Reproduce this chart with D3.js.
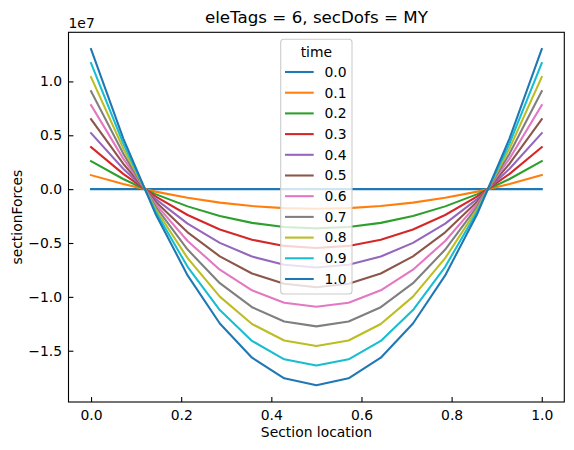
<!DOCTYPE html>
<html><head><meta charset="utf-8">
<script src="https://cdn.jsdelivr.net/npm/d3@7"></script>
<style>
body{margin:0;background:#fff;}
svg text{font-family:"DejaVu Sans",sans-serif;fill:#000;}
</style></head>
<body><svg id="c" width="574" height="450"></svg>
<script>
const sectionLocation = [0, 1/14, 2/14, 3/14, 4/14, 5/14, 6/14, 7/14, 8/14, 9/14, 10/14, 11/14, 12/14, 13/14, 1];
const times = ["0.0","0.1","0.2","0.3","0.4","0.5","0.6","0.7","0.8","0.9","1.0"];
// values in units of 1e6
const s00 = [0,0,0,0,0,0,0,0,0,0,0,0,0,0,0];
const s01 = [1.30,0.47,-0.23,-0.80,-1.25,-1.57,-1.76,-1.82,-1.76,-1.57,-1.25,-0.80,-0.23,0.47,1.30];
const s02 = [2.60,0.94,-0.46,-1.60,-2.49,-3.13,-3.51,-3.64,-3.51,-3.13,-2.49,-1.60,-0.46,0.94,2.60];
const s03 = [3.90,1.42,-0.68,-2.40,-3.74,-4.70,-5.27,-5.46,-5.27,-4.70,-3.74,-2.40,-0.68,1.42,3.90];
const s04 = [5.20,1.89,-0.91,-3.20,-4.99,-6.26,-7.02,-7.28,-7.02,-6.26,-4.99,-3.20,-0.91,1.89,5.20];
const s05 = [6.50,2.36,-1.14,-4.01,-6.24,-7.83,-8.78,-9.10,-8.78,-7.83,-6.24,-4.01,-1.14,2.36,6.50];
const s06 = [7.80,2.83,-1.37,-4.81,-7.48,-9.39,-10.54,-10.92,-10.54,-9.39,-7.48,-4.81,-1.37,2.83,7.80];
const s07 = [9.10,3.30,-1.60,-5.61,-8.73,-10.96,-12.29,-12.74,-12.29,-10.96,-8.73,-5.61,-1.60,3.30,9.10];
const s08 = [10.40,3.78,-1.82,-6.41,-9.98,-12.52,-14.05,-14.56,-14.05,-12.52,-9.98,-6.41,-1.82,3.78,10.40];
const s09 = [11.70,4.25,-2.05,-7.21,-11.22,-14.09,-15.80,-16.38,-15.80,-14.09,-11.22,-7.21,-2.05,4.25,11.70];
const s10 = [13.00,4.72,-2.28,-8.01,-12.47,-15.65,-17.56,-18.20,-17.56,-15.65,-12.47,-8.01,-2.28,4.72,13.00];
const seriesValues = [s00,s01,s02,s03,s04,s05,s06,s07,s08,s09,s10];
const xTicks = [0,0.2,0.4,0.6,0.8,1.0];
const yTicks = [-1.5,-1.0,-0.5,0.0,0.5,1.0];
const colors = ["#1f77b4","#ff7f0e","#2ca02c","#d62728","#9467bd","#8c564b","#e377c2","#7f7f7f","#bcbd22","#17becf","#1f77b4"];

const L=68.5, R=564.3, T=32.3, B=402;
const svg=d3.select("#c");
const allV = seriesValues.flat().map(v=>v*1e6);
const ymin=d3.min(allV), ymax=d3.max(allV), yp=(ymax-ymin)*0.05;
const x=d3.scaleLinear().domain([-0.05,1.05]).range([L,R]);
const y=d3.scaleLinear().domain([ymin-yp,ymax+yp]).range([B,T]);
const fs=13.9;
const minus = s=>s.replace("-","\u2212");

const plot=svg.append("g");
plot.append("defs").append("clipPath").attr("id","cp").append("rect")
  .attr("x",L).attr("y",T).attr("width",R-L).attr("height",B-T);
const lg=plot.append("g").attr("clip-path","url(#cp)");
const line=d3.line().x((d,i)=>x(sectionLocation[i])).y(d=>y(d*1e6));
seriesValues.forEach((s,k)=>{
  lg.append("path").attr("d",line(s)).attr("fill","none")
    .attr("stroke",colors[k]).attr("stroke-width",2.08)
    .attr("stroke-linejoin","round").attr("stroke-linecap","square");
});

// axes
const xa=d3.axisBottom(x).tickValues(xTicks).tickFormat(d3.format(".1f")).tickSizeInner(-4.9).tickSizeOuter(0).tickPadding(10);
const gx=svg.append("g").attr("transform",`translate(0,${B})`).call(xa);
const ya=d3.axisLeft(y).tickValues(yTicks.map(v=>v*1e7)).tickFormat(d=>minus(d3.format(".1f")(d/1e7))).tickSizeInner(-4.9).tickSizeOuter(0).tickPadding(10);
const gy=svg.append("g").attr("transform",`translate(${L},0)`).call(ya);
[gx,gy].forEach(g=>{
  g.select(".domain").remove();
  g.selectAll(".tick line").attr("stroke","#000").attr("stroke-width",1.1);
  g.selectAll("text").attr("font-size",fs).attr("font-family","DejaVu Sans");
});
gx.selectAll("text").attr("dy","0.71em").attr("y",8.5);
gy.selectAll("text").attr("x",-6.5);
svg.append("rect").attr("x",L).attr("y",T).attr("width",R-L).attr("height",B-T)
  .attr("fill","none").attr("stroke","#000").attr("stroke-width",1.1);

svg.append("text").attr("x",L).attr("y",28).attr("font-size",fs).text("1e7");
svg.append("text").attr("x",(L+R)/2).attr("y",23).attr("text-anchor","middle").attr("font-size",16.7).text("eleTags = 6, secDofs = MY");
svg.append("text").attr("x",(L+R)/2).attr("y",437).attr("text-anchor","middle").attr("font-size",fs).text("Section location");
svg.append("text").attr("transform",`translate(22,${(T+B)/2}) rotate(-90)`).attr("text-anchor","middle").attr("font-size",fs).text("sectionForces");

// legend
const lgx=280.7, lgy=39.3, lgw=71.3, lgh=254.7;
const leg=svg.append("g");
leg.append("rect").attr("x",lgx).attr("y",lgy).attr("width",lgw).attr("height",lgh)
  .attr("rx",3).attr("fill","#fff").attr("fill-opacity",0.8).attr("stroke","#cccccc").attr("stroke-width",1.1);
leg.append("text").attr("x",lgx+lgw/2).attr("y",52).attr("dy","0.35em").attr("text-anchor","middle").attr("font-size",fs).text("time");
times.forEach((t,k)=>{
  const yy=72+k*20.7;
  leg.append("line").attr("x1",285).attr("x2",313.7).attr("y1",yy).attr("y2",yy)
    .attr("stroke",colors[k]).attr("stroke-width",2.08);
  leg.append("text").attr("x",324.5).attr("y",yy).attr("dy","0.35em").attr("font-size",fs).text(t);
});
</script></body></html>
